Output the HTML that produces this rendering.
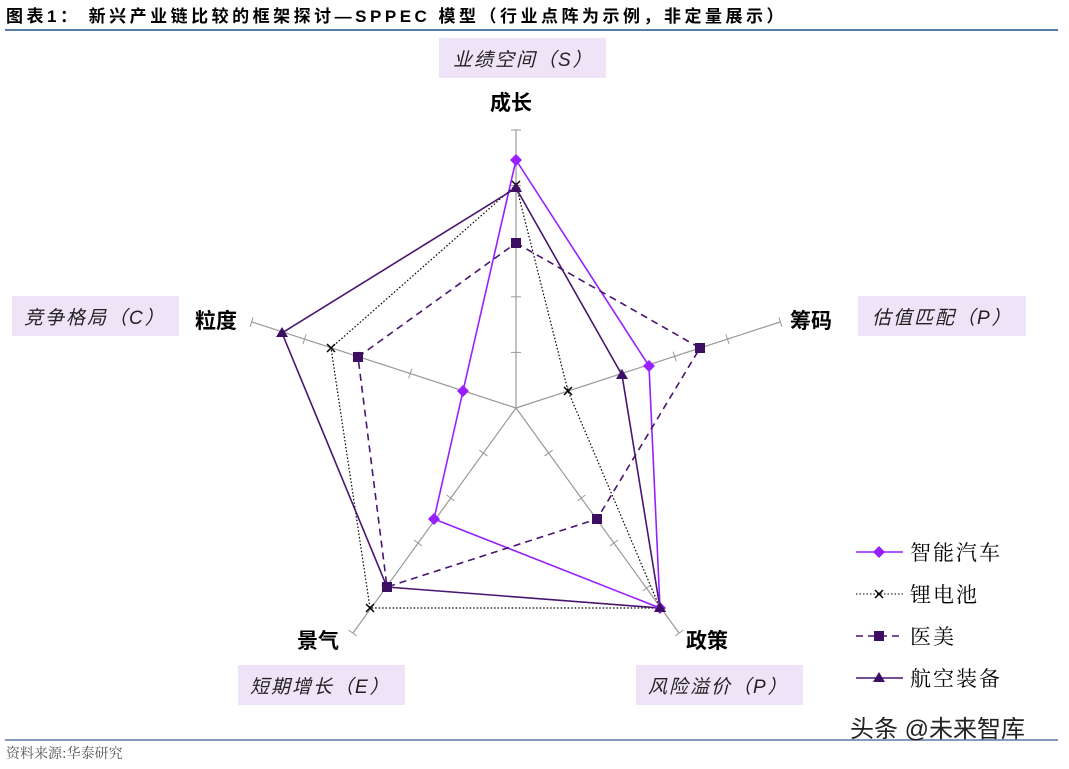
<!DOCTYPE html>
<html><head><meta charset="utf-8"><style>
body{margin:0;width:1069px;height:764px;background:#fff;overflow:hidden;font-family:"Liberation Sans","Noto Sans CJK SC",sans-serif}
</style></head><body>
<svg width="1069" height="764" viewBox="0 0 1069 764" xmlns="http://www.w3.org/2000/svg" font-family="Liberation Sans, Noto Sans CJK SC, sans-serif">
<text x="6" y="22" font-size="17" font-weight="bold" fill="#000" letter-spacing="3.5">图表1：  新兴产业链比较的框架探讨—SPPEC 模型（行业点阵为示例，非定量展示）</text>
<line x1="5" y1="30" x2="1058" y2="30" stroke="#5a7ca8" stroke-width="2"/>
<line x1="5" y1="740" x2="1058" y2="740" stroke="#5a7ca8" stroke-width="1.5"/>
<text x="6" y="758" font-size="14" fill="#555" font-family="Noto Serif CJK SC, serif">资料来源:华泰研究</text>

<g font-style="italic" font-size="19" fill="#222" letter-spacing="2">
<rect x="439" y="38" width="167" height="40" fill="#efe3f8"/><text x="453" y="66">业绩空间（S）</text>
<rect x="12" y="296" width="167" height="40" fill="#efe3f8"/><text x="24" y="324">竞争格局（C）</text>
<rect x="858" y="296" width="168" height="40" fill="#efe3f8"/><text x="872" y="324">估值匹配（P）</text>
<rect x="238" y="665" width="167" height="40" fill="#efe3f8"/><text x="250" y="693">短期增长（E）</text>
<rect x="636" y="665" width="167" height="40" fill="#efe3f8"/><text x="648" y="693">风险溢价（P）</text>
</g>
<g font-size="21" font-weight="bold" fill="#000">
<text x="490" y="110">成长</text>
<text x="195" y="328">粒度</text>
<text x="790" y="328">筹码</text>
<text x="297" y="648">景气</text>
<text x="686" y="648">政策</text>
</g>

<g stroke="#999" stroke-width="1.2">
<line x1="516" y1="408" x2="516" y2="130"/>
<line x1="516" y1="408" x2="780" y2="322"/>
<line x1="516" y1="408" x2="679" y2="633"/>
<line x1="516" y1="408" x2="353" y2="633"/>
<line x1="516" y1="408" x2="252" y2="322"/>
</g>
<g id="ticks" stroke="#999" stroke-width="1"></g>

<g fill="none" stroke-width="1.6">
<polygon points="516,160 649,366 660,608 434,519 463,391" stroke="#9a1fff"/>
<polygon points="516,185 568,391 660,608 370,608 331,348" stroke="#000" stroke-dasharray="1.5,2" stroke-width="1.2"/>
<polygon points="516,243 700,348 597,519 387,587 358,357" stroke="#4a1570" stroke-dasharray="7,5"/>
<polygon points="516,188 622,375 660,608 387,587 282,333" stroke="#4a1570"/>
</g>
<g fill="#9a1fff">
<path d="M516 154l6 6-6 6-6-6z"/><path d="M649 360l6 6-6 6-6-6z"/><path d="M660 602l6 6-6 6-6-6z"/><path d="M434 513l6 6-6 6-6-6z"/><path d="M463 385l6 6-6 6-6-6z"/>
</g>
<g stroke="#000" stroke-width="1.5">
<path d="M512 181l8 8M520 181l-8 8"/><path d="M564 387l8 8M572 387l-8 8"/><path d="M366 604l8 8M374 604l-8 8"/><path d="M327 344l8 8M335 344l-8 8"/>
</g>
<g fill="#3d0f63">
<rect x="511" y="238" width="10" height="10"/><rect x="695" y="343" width="10" height="10"/><rect x="592" y="514" width="10" height="10"/><rect x="382" y="582" width="10" height="10"/><rect x="353" y="352" width="10" height="10"/>
<path d="M516 182l6 10h-12z"/><path d="M622 369l6 10h-12z"/><path d="M660 602l6 10h-12z"/><path d="M282 327l6 10h-12z"/>
</g>

<g>
<line x1="856" y1="552" x2="903" y2="552" stroke="#9a1fff" stroke-width="1.6"/><path d="M879 546l6 6-6 6-6-6z" fill="#9a1fff"/>
<line x1="856" y1="594" x2="903" y2="594" stroke="#000" stroke-dasharray="1.5,2"/><path d="M875 590l8 8M883 590l-8 8" stroke="#000" stroke-width="1.5"/>
<line x1="856" y1="636" x2="903" y2="636" stroke="#4a1570" stroke-width="1.6" stroke-dasharray="7,5"/><rect x="874" y="631" width="10" height="10" fill="#3d0f63"/>
<line x1="856" y1="678" x2="903" y2="678" stroke="#4a1570" stroke-width="1.6"/><path d="M879 672l6 10h-12z" fill="#3d0f63"/>
</g>
<g font-size="21" fill="#000" font-family="Noto Serif CJK SC, serif" letter-spacing="2">
<text x="910" y="560">智能汽车</text><text x="910" y="602">锂电池</text><text x="910" y="644">医美</text><text x="910" y="686">航空装备</text>
</g>
<text x="850" y="737" font-size="24" fill="#222">头条 @未来智库</text>
</svg>
<script>
(function(){var g=document.getElementById('ticks'),cx=516,cy=408,R=278;
var angs=[-90,-18,54,126,198];
angs.forEach(function(a){var r=a*Math.PI/180,ux=Math.cos(r),uy=Math.sin(r),px=-uy,py=ux;
for(var i=1;i<=5;i++){var d=R*i/5,x=cx+ux*d,y=cy+uy*d;
var l=document.createElementNS('http://www.w3.org/2000/svg','line');
l.setAttribute('x1',x-px*5);l.setAttribute('y1',y-py*5);l.setAttribute('x2',x+px*5);l.setAttribute('y2',y+py*5);g.appendChild(l);}});})();
</script>
</body></html>
